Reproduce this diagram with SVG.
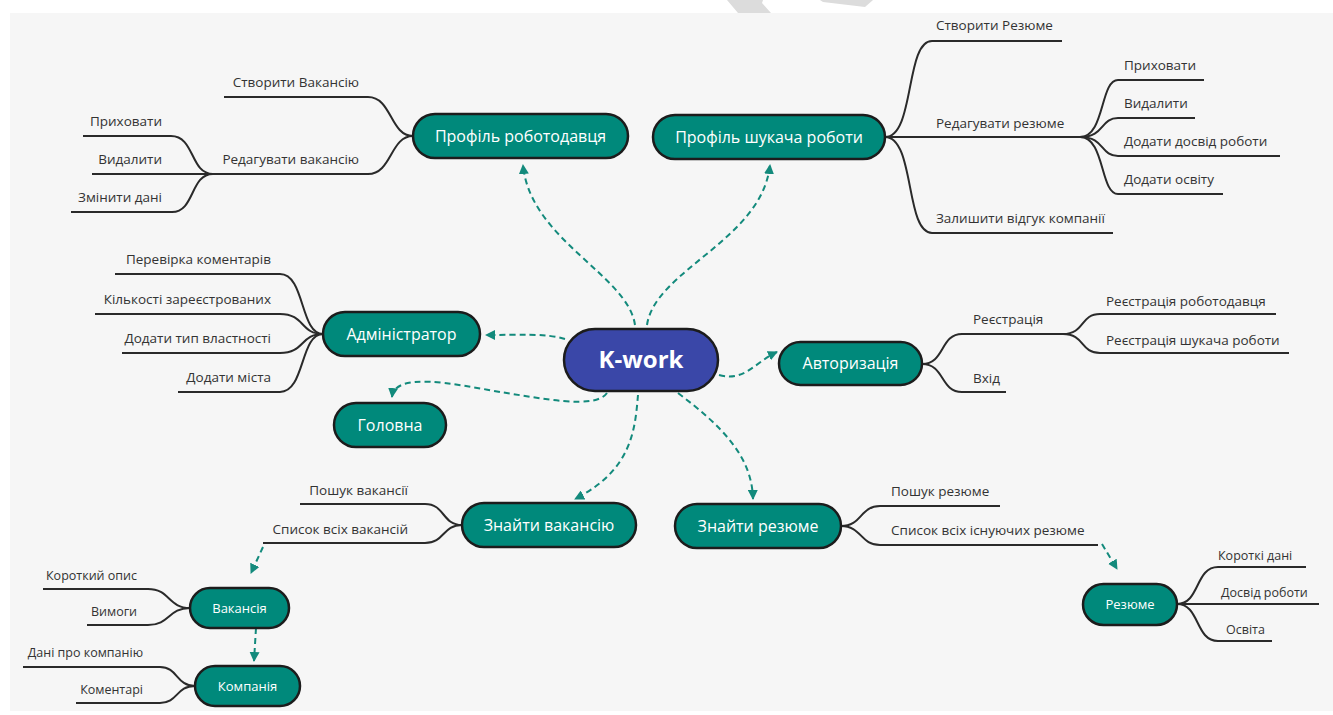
<svg xmlns="http://www.w3.org/2000/svg" width="1333" height="715" viewBox="0 0 1333 715">
<defs>
<style>
.bg{fill:#f6f6f6}
.wm{fill:#dcdcdc}
.node{fill:#00897b;stroke:#1c1c1c;stroke-width:2.5}
.root{fill:#3a47a8;stroke:#1c1c1c;stroke-width:2.5}
.nt{font-family:"Open Sans","Liberation Sans",sans-serif;font-size:16px;fill:#ffffff;text-anchor:middle}
.nts{font-family:"Open Sans","Liberation Sans",sans-serif;font-size:13px;fill:#ffffff;text-anchor:middle}
.rt{font-family:"Open Sans","Liberation Sans",sans-serif;font-size:24px;font-weight:bold;fill:#ffffff;text-anchor:middle}
.br{fill:none;stroke:#2a2a2a;stroke-width:2}
.lt{font-family:"Open Sans","Liberation Sans",sans-serif;font-size:13.5px;fill:#333333}
.ls{font-family:"Open Sans","Liberation Sans",sans-serif;font-size:12.5px;fill:#333333}
.end{text-anchor:end}
.dash{fill:none;stroke:#138a7c;stroke-width:2;stroke-dasharray:6 4}
</style>
<marker id="ah" viewBox="0 0 10 10" refX="9" refY="5" markerWidth="5" markerHeight="5" orient="auto" markerUnits="strokeWidth">
<path d="M0,0 L10,5 L0,10 z" fill="#138a7c"/>
</marker>
</defs>
<rect x="0" y="0" width="1333" height="715" fill="#ffffff"/>
<rect class="bg" x="10" y="13" width="1323" height="698"/>
<polygon class="wm" points="727,0 763,0 762,3 771,13 738,13"/>
<polygon class="wm" points="820,0 873,0 865,7 823,2"/>

<g id="branches">
<path class="br" d="M224,97 H368 C392,97 390,136 413,136"/>
<path class="br" d="M213,174 H368 C392,174 390,136 413,136"/>
<path class="br" d="M83,136 H171 C195,136 190,174 213,174"/>
<path class="br" d="M92,174 H213"/>
<path class="br" d="M71,212 H172 C195,212 190,174 213,174"/>
<path class="br" d="M885,137 C915,137 905,41 932,41 H1062"/>
<path class="br" d="M885,137 H1080"/>
<path class="br" d="M885,137 C915,137 905,233 932,233 H1113"/>
<path class="br" d="M1080,137 C1105,137 1100,80 1118,80 H1204"/>
<path class="br" d="M1080,137 C1105,137 1100,118 1118,118 H1195"/>
<path class="br" d="M1080,137 C1105,137 1100,156 1118,156 H1280"/>
<path class="br" d="M1080,137 C1105,137 1100,194 1118,194 H1223"/>
<path class="br" d="M922,364 C945,364 940,334 962,334 H1063"/>
<path class="br" d="M922,364 C945,364 940,392 962,392 H1006"/>
<path class="br" d="M1063,334 C1085,334 1080,314 1100,314 H1276"/>
<path class="br" d="M1063,334 C1085,334 1080,353 1100,353 H1289"/>
<path class="br" d="M115,274 H280 C305,274 300,334 323,334"/>
<path class="br" d="M95,314 H280 C305,314 300,334 323,334"/>
<path class="br" d="M122,353 H280 C305,353 300,334 323,334"/>
<path class="br" d="M178,392 H280 C305,392 300,334 323,334"/>
<path class="br" d="M300,504 H425 C445,504 442,525 462,525"/>
<path class="br" d="M263,543 H425 C445,543 442,525 462,525"/>
<path class="br" d="M841,526 C862,526 860,506 880,506 H1000"/>
<path class="br" d="M841,526 C862,526 860,545 880,545 H1098"/>
<path class="br" d="M43,589 H148 C170,589 168,608 190,608"/>
<path class="br" d="M87,625 H148 C170,625 168,608 190,608"/>
<path class="br" d="M23,667 H160 C178,667 176,686 195,686"/>
<path class="br" d="M76,703 H160 C178,703 176,686 195,686"/>
<path class="br" d="M1177,604 C1200,604 1195,567 1218,567 H1306"/>
<path class="br" d="M1177,604 H1319"/>
<path class="br" d="M1177,604 C1200,604 1195,641 1218,641 H1272"/>
</g>

<g id="connectors">
<path class="dash" d="M635,325 C628,275 530,240 523,165" marker-end="url(#ah)"/>
<path class="dash" d="M647,325 C655,270 762,240 770,165" marker-end="url(#ah)"/>
<path class="dash" d="M565,339 C545,333 520,335 486,335" marker-end="url(#ah)"/>
<path class="dash" d="M607,393 C595,410 540,398 500,392 C450,383 395,372 392,397" marker-end="url(#ah)"/>
<path class="dash" d="M719,375 C745,382 755,362 777,352" marker-end="url(#ah)"/>
<path class="dash" d="M638,395 C635,430 632,470 575,499" marker-end="url(#ah)"/>
<path class="dash" d="M678,393 C720,425 752,455 753,499" marker-end="url(#ah)"/>
<path class="dash" d="M263,547 L251,573" marker-end="url(#ah)"/>
<path class="dash" d="M256,628 L254,661" marker-end="url(#ah)"/>
<path class="dash" d="M1102,544 L1117,569" marker-end="url(#ah)"/>
</g>

<g id="node-kwork">
<rect class="root" x="564" y="329" width="154" height="62" rx="31"/>
<text class="rt" x="641" y="368">K-work</text>
</g>
<g id="node-profil-robotodavtsia">
<rect class="node" x="413" y="114" width="215" height="44" rx="22"/>
<text class="nt" x="520.5" y="142">Профіль роботодавця</text>
<text class="lt end" x="359" y="87">Створити Вакансію</text>
<text class="lt end" x="359" y="164">Редагувати вакансію</text>
<text class="lt end" x="162" y="126">Приховати</text>
<text class="lt end" x="162" y="164">Видалити</text>
<text class="lt end" x="162" y="202">Змінити дані</text>
</g>
<g id="node-profil-shukacha">
<rect class="node" x="653" y="115" width="232" height="44" rx="22"/>
<text class="nt" x="769" y="143">Профіль шукача роботи</text>
<text class="lt" x="936" y="30">Створити Резюме</text>
<text class="lt" x="936" y="128">Редагувати резюме</text>
<text class="lt" x="936" y="223">Залишити відгук компанії</text>
<text class="lt" x="1124" y="70">Приховати</text>
<text class="lt" x="1124" y="108">Видалити</text>
<text class="lt" x="1124" y="146">Додати досвід роботи</text>
<text class="lt" x="1124" y="184">Додати освіту</text>
</g>
<g id="node-admin">
<rect class="node" x="323" y="312" width="157" height="44" rx="22"/>
<text class="nt" x="401.5" y="340">Адміністратор</text>
<text class="lt end" x="271" y="264">Перевірка коментарів</text>
<text class="lt end" x="271" y="304">Кількості зареєстрованих</text>
<text class="lt end" x="271" y="343">Додати тип властності</text>
<text class="lt end" x="271" y="382">Додати міста</text>
</g>
<g id="node-holovna">
<rect class="node" x="334" y="403" width="112" height="44" rx="22"/>
<text class="nt" x="390" y="431">Головна</text>
</g>
<g id="node-avtoryzatsiia">
<rect class="node" x="779" y="342" width="143" height="43" rx="21.5"/>
<text class="nt" x="850.5" y="369">Авторизація</text>
<text class="lt" x="973" y="324">Реєстрація</text>
<text class="lt" x="973" y="383">Вхід</text>
<text class="lt" x="1106" y="306">Реєстрація роботодавця</text>
<text class="lt" x="1106" y="345">Реєстрація шукача роботи</text>
</g>
<g id="node-znaity-vakansiiu">
<rect class="node" x="462" y="503" width="174" height="44" rx="22"/>
<text class="nt" x="549" y="531">Знайти вакансію</text>
<text class="lt end" x="408" y="495">Пошук вакансії</text>
<text class="lt end" x="408" y="534">Список всіх вакансій</text>
</g>
<g id="node-znaity-reziume">
<rect class="node" x="675" y="504" width="166" height="44" rx="22"/>
<text class="nt" x="758" y="532">Знайти резюме</text>
<text class="lt" x="891" y="496">Пошук резюме</text>
<text class="lt" x="891" y="535">Список всіх існуючих резюме</text>
</g>
<g id="node-vakansiia">
<rect class="node" x="190" y="588" width="99" height="40" rx="20"/>
<text class="nts" x="239.5" y="612.5">Вакансія</text>
<text class="ls end" x="137" y="580">Короткий опис</text>
<text class="ls end" x="137" y="616">Вимоги</text>
</g>
<g id="node-kompaniia">
<rect class="node" x="195" y="666" width="105" height="40" rx="20"/>
<text class="nts" x="247.5" y="690.5">Компанія</text>
<text class="ls end" x="143" y="657">Дані про компанію</text>
<text class="ls end" x="143" y="694">Коментарі</text>
</g>
<g id="node-reziume">
<rect class="node" x="1083" y="584" width="94" height="41" rx="20.5"/>
<text class="nts" x="1130" y="609">Резюме</text>
<text class="ls" x="1218" y="560">Короткі дані</text>
<text class="ls" x="1221" y="597">Досвід роботи</text>
<text class="ls" x="1226" y="634">Освіта</text>
</g>
</svg>
